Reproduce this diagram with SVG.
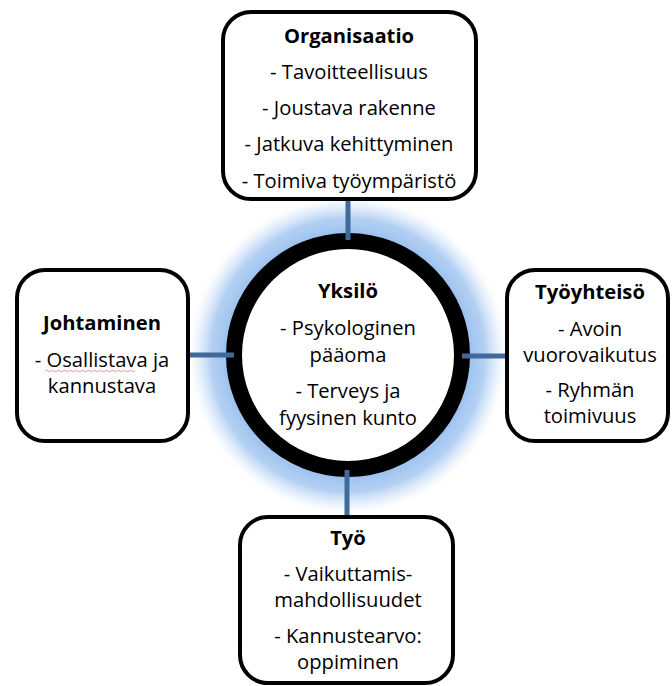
<svg xmlns="http://www.w3.org/2000/svg" width="672" height="686" viewBox="0 0 672 686">
<style>
.box{fill:#fff;stroke:#000;stroke-width:4}
.t{font-family:"Open Sans","Noto Sans","Liberation Sans",sans-serif;font-size:20.2px;fill:#000;text-anchor:middle}
.b{font-weight:bold}
.c{stroke:#41699b;stroke-width:5;fill:none}
</style>
<defs>
<radialGradient id="glow" cx="348" cy="355" r="161" gradientUnits="userSpaceOnUse">
<stop offset="0.74" stop-color="#9ac0ee" stop-opacity="1"/>
<stop offset="0.85" stop-color="#a6c8f1" stop-opacity="0.85"/>
<stop offset="0.93" stop-color="#c6dcf6" stop-opacity="0.4"/>
<stop offset="1" stop-color="#ffffff" stop-opacity="0"/>
</radialGradient>
</defs>
<rect width="672" height="686" fill="#fff"/>
<circle cx="348" cy="355" r="161" fill="url(#glow)"/>
<g id="yksilo">
<circle cx="348" cy="355" r="114" fill="#fff" stroke="#000" stroke-width="16"/>
<text class="t b" x="348" y="298">Yksilö</text>
<text class="t" x="348" y="335">- Psykologinen</text>
<text class="t" x="348" y="362">pääoma</text>
<text class="t" x="348" y="398">- Terveys ja</text>
<text class="t" x="348" y="425">fyysinen kunto</text>
</g>
<g id="connectors">
<line class="c" x1="348" y1="199" x2="348" y2="240"/>
<line class="c" x1="190" y1="355" x2="234" y2="355"/>
<line class="c" x1="462" y1="356" x2="506" y2="356"/>
<line class="c" x1="347" y1="470" x2="347" y2="517"/>
</g>
<g id="organisaatio">
<rect class="box" x="223" y="12" width="253" height="187" rx="28"/>
<text class="t b" x="349" y="43">Organisaatio</text>
<text class="t" x="349" y="79">- Tavoitteellisuus</text>
<text class="t" x="349" y="115">- Joustava rakenne</text>
<text class="t" x="349" y="151">- Jatkuva kehittyminen</text>
<text class="t" x="349" y="188">- Toimiva työympäristö</text>
</g>
<g id="johtaminen">
<rect class="box" x="17" y="270" width="171" height="171" rx="28"/>
<text class="t b" x="102" y="330">Johtaminen</text>
<text class="t" x="102" y="367">- Osallistava ja</text>
<text class="t" x="102" y="393">kannustava</text>
<path d="M45 371 q1.5 -1.5 3 0 t3 0 t3 0 t3 0 t3 0 t3 0 t3 0 t3 0 t3 0 t3 0 t3 0 t3 0 t3 0 t3 0 t3 0 t3 0 t3 0 t3 0 t3 0 t3 0 t3 0 t3 0 t3 0 t3 0 t3 0 t3 0 t3 0 t3 0 t3 0 t3 0" fill="none" stroke="#f08c9a" stroke-width="1"/>
</g>
<g id="tyoyhteiso">
<rect class="box" x="507" y="270" width="161" height="171" rx="28"/>
<text class="t b" x="590" y="299">Työyhteisö</text>
<text class="t" x="590" y="336">- Avoin</text>
<text class="t" x="590" y="362">vuorovaikutus</text>
<text class="t" x="590" y="397">- Ryhmän</text>
<text class="t" x="590" y="423">toimivuus</text>
</g>
<g id="tyo">
<rect class="box" x="240" y="517" width="213" height="166" rx="28"/>
<text class="t b" x="348" y="545">Työ</text>
<text class="t" x="348" y="581">- Vaikuttamis-</text>
<text class="t" x="348" y="607">mahdollisuudet</text>
<text class="t" x="348" y="643">- Kannustearvo:</text>
<text class="t" x="348" y="669">oppiminen</text>
</g>
</svg>
